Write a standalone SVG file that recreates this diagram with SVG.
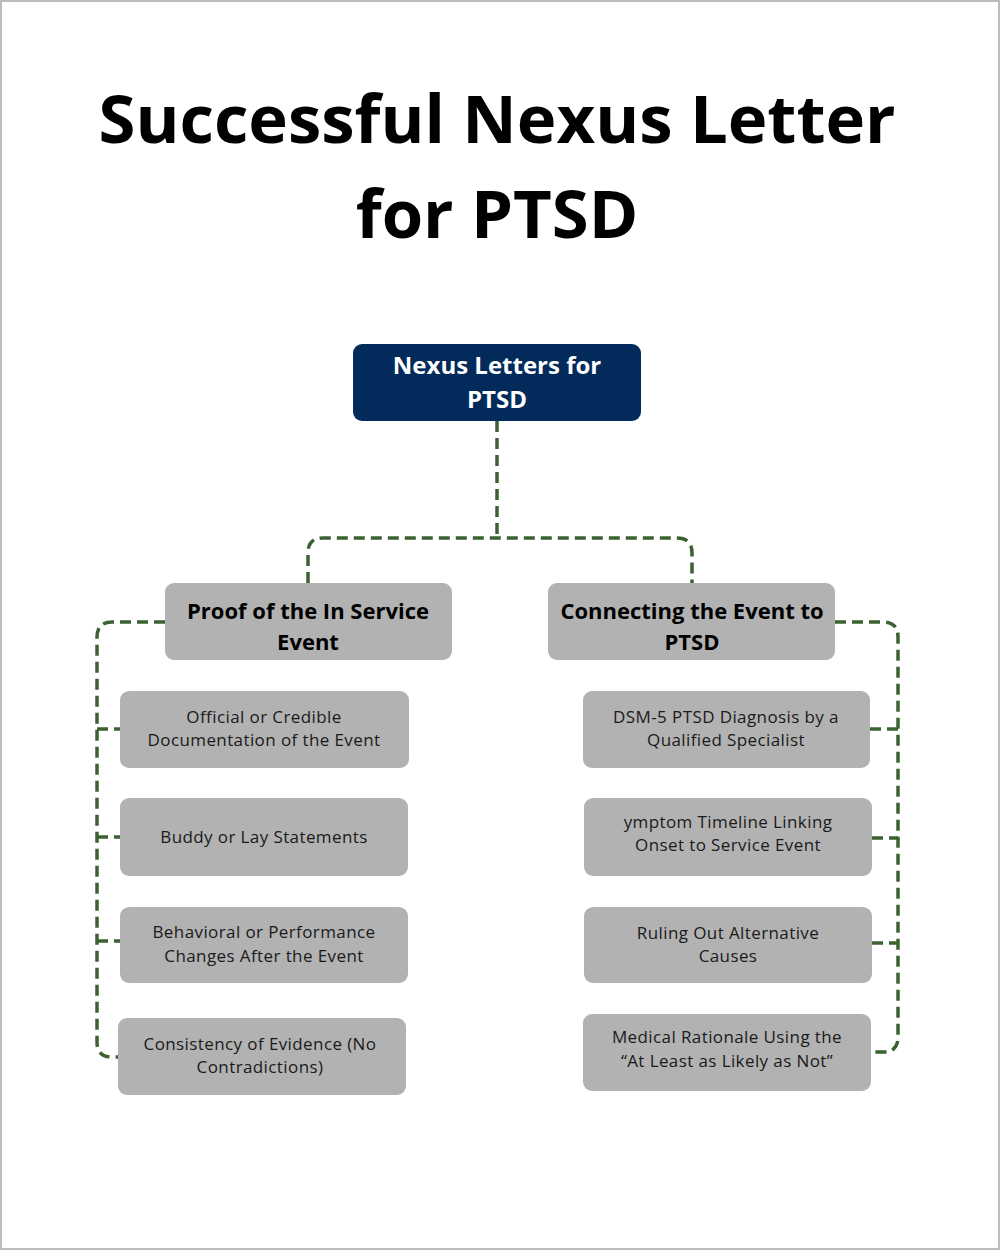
<svg xmlns="http://www.w3.org/2000/svg" width="1000" height="1250" viewBox="0 0 1000 1250">
<style>
.title{font-family:"Open Sans","Liberation Sans",sans-serif;font-weight:700;font-size:67px;fill:#000;text-anchor:middle}
.root{fill:#022b5b}
.box{fill:#b2b2b2}
.rt{font-family:"Open Sans","Liberation Sans",sans-serif;font-weight:700;font-size:24px;fill:#fff;text-anchor:middle}
.bt{font-family:"Open Sans","Liberation Sans",sans-serif;font-weight:700;font-size:22px;fill:#000;text-anchor:middle}
.lt{font-family:"Open Sans","Liberation Sans",sans-serif;font-size:17px;letter-spacing:0.4px;fill:#1a1a1a;text-anchor:middle}
.con{fill:none;stroke:#3c6232;stroke-width:3.5;stroke-dasharray:11 6}
</style>
<rect x="0" y="0" width="1000" height="1250" fill="#fff"/>
<rect x="1" y="1" width="998" height="1248" fill="none" stroke="#bdbdbd" stroke-width="2"/>
<text class="title" x="497" y="143">Successful Nexus Letter</text>
<text class="title" x="497" y="238">for PTSD</text>
<g id="connectors">
<path class="con" d="M497 421 V538"/>
<path class="con" d="M308 583 V553 Q308 538 323 538 H677 Q692 538 692 553 V583"/>
<path class="con" d="M165 622 H112 Q97 622 97 637 V1042 Q97 1057 112 1057 H118"/>
<path class="con" d="M97 729 H120 M97 837 H120 M97 941 H120"/>
<path class="con" d="M835 622 H883 Q898 622 898 637 V1037 Q898 1052 883 1052 H871"/>
<path class="con" d="M870 729 H898 M872 838 H898 M872 943 H898"/>
</g>
<g id="root"><rect class="root" x="353" y="344" width="288" height="77" rx="9"/><text class="rt" x="497" y="374">Nexus Letters for</text><text class="rt" x="497" y="408">PTSD</text></g>
<g id="b1"><rect class="box" x="165" y="583" width="287" height="77" rx="9"/><text class="bt" x="308" y="619">Proof of the In Service</text><text class="bt" x="308" y="650">Event</text></g>
<g id="b2"><rect class="box" x="548" y="583" width="287" height="77" rx="9"/><text class="bt" x="692" y="619">Connecting the Event to</text><text class="bt" x="692" y="650">PTSD</text></g>
<g id="l1"><rect class="box" x="120" y="691" width="289" height="77" rx="9"/><text class="lt" x="264" y="723">Official or Credible</text><text class="lt" x="264" y="746">Documentation of the Event</text></g>
<g id="l2"><rect class="box" x="120" y="798" width="288" height="78" rx="9"/><text class="lt" x="264" y="843">Buddy or Lay Statements</text></g>
<g id="l3"><rect class="box" x="120" y="907" width="288" height="76" rx="9"/><text class="lt" x="264" y="938">Behavioral or Performance</text><text class="lt" x="264" y="962">Changes After the Event</text></g>
<g id="l4"><rect class="box" x="118" y="1018" width="288" height="77" rx="9"/><text class="lt" x="260" y="1050">Consistency of Evidence (No</text><text class="lt" x="260" y="1073">Contradictions)</text></g>
<g id="r1"><rect class="box" x="583" y="691" width="287" height="77" rx="9"/><text class="lt" x="726" y="723">DSM-5 PTSD Diagnosis by a</text><text class="lt" x="726" y="746">Qualified Specialist</text></g>
<g id="r2"><rect class="box" x="584" y="798" width="288" height="78" rx="9"/><text class="lt" x="728" y="828">ymptom Timeline Linking</text><text class="lt" x="728" y="851">Onset to Service Event</text></g>
<g id="r3"><rect class="box" x="584" y="907" width="288" height="76" rx="9"/><text class="lt" x="728" y="939">Ruling Out Alternative</text><text class="lt" x="728" y="962">Causes</text></g>
<g id="r4"><rect class="box" x="583" y="1014" width="288" height="77" rx="9"/><text class="lt" x="727" y="1043">Medical Rationale Using the</text><text class="lt" x="727" y="1067">“At Least as Likely as Not”</text></g>
</svg>
